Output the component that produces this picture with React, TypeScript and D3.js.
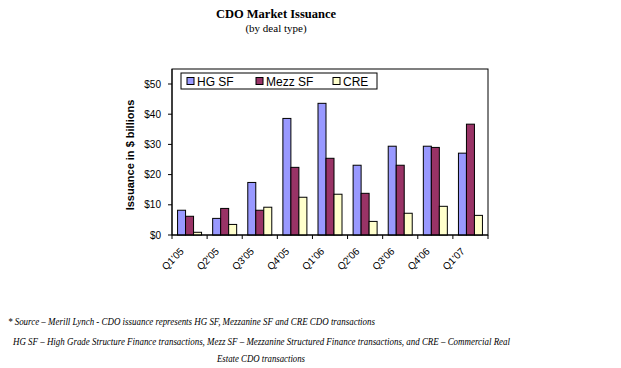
import { useEffect, useRef } from 'react';
import * as d3 from 'd3';

// quarters on the x axis
const QUARTERS = ["Q1'05", "Q2'05", "Q3'05", "Q4'05", "Q1'06", "Q2'06", "Q3'06", "Q4'06", "Q1'07"];
// issuance in $ billions
const HG_SF = [8.2, 5.5, 17.4, 38.6, 43.6, 23.1, 29.4, 29.4, 27.1];
const MEZZ_SF = [6.2, 8.8, 8.2, 22.4, 25.4, 13.8, 23.1, 29.0, 36.7];
const CRE = [0.9, 3.5, 9.2, 12.5, 13.5, 4.5, 7.2, 9.5, 6.5];
const SERIES_NAMES = ['HG SF', 'Mezz SF', 'CRE'];
const SERIES_COLORS = ['#9999FF', '#993366', '#FFFFCC'];
const Y_TICKS = [0, 10, 20, 30, 40, 50];

const W = 621;
const H = 368;

export default function App() {
  const svgRef = useRef<SVGSVGElement>(null);

  useEffect(() => {
    const svg = d3.select(svgRef.current);
    svg.selectAll('*').remove();

    const left = 172, right = 488, top = 69, bottom = 235;
    const series = [HG_SF, MEZZ_SF, CRE];
    const serif = '"Liberation Serif", "Times New Roman", serif';
    const sans = 'Arial, "Liberation Sans", sans-serif';

    const x = d3.scaleBand().domain(QUARTERS).range([left, right]);
    const inner = d3.scaleBand<number>().domain([0, 1, 2]).range([0, 24]);
    const y = d3.scaleLinear().domain([0, 50]).range([bottom, bottom - 151]);

    // titles
    svg.append('text').attr('x', 276).attr('y', 18).attr('text-anchor', 'middle')
      .attr('font-family', serif).attr('font-weight', 'bold').attr('font-size', 12.5)
      .text('CDO Market Issuance');
    svg.append('text').attr('x', 276).attr('y', 32).attr('text-anchor', 'middle')
      .attr('font-family', serif).attr('font-size', 11)
      .text('(by deal type)');

    // plot frame
    svg.append('rect').attr('x', left).attr('y', top)
      .attr('width', right - left).attr('height', bottom - top)
      .attr('fill', 'white').attr('stroke', '#000').attr('stroke-width', 1);

    // bars
    series.forEach((vals, si) => {
      svg.append('g').selectAll('rect').data(vals).join('rect')
        .attr('x', (_, i) => x(QUARTERS[i])! + (x.bandwidth() - 24) / 2 + inner(si)!)
        .attr('y', d => y(d))
        .attr('width', inner.bandwidth())
        .attr('height', d => bottom - y(d))
        .attr('fill', SERIES_COLORS[si])
        .attr('stroke', '#000').attr('stroke-width', 1);
    });

    // y axis
    const yAxis = svg.append('g');
    yAxis.append('line').attr('x1', left).attr('x2', left).attr('y1', top).attr('y2', bottom).attr('stroke', '#000');
    yAxis.selectAll('line.tick').data(Y_TICKS).join('line').attr('class', 'tick')
      .attr('x1', left - 4).attr('x2', left).attr('y1', d => y(d)).attr('y2', d => y(d)).attr('stroke', '#000');
    yAxis.selectAll('text').data(Y_TICKS).join('text')
      .attr('x', left - 11).attr('y', d => y(d) + 3.5).attr('text-anchor', 'end')
      .attr('font-family', sans).attr('font-size', 10)
      .text(d => `$${d}`);

    // x axis
    const xAxis = svg.append('g');
    xAxis.append('line').attr('x1', left).attr('x2', right).attr('y1', bottom).attr('y2', bottom).attr('stroke', '#000');
    const edges = QUARTERS.map(q => x(q)!).concat([right]);
    xAxis.selectAll('line.tick').data(edges).join('line').attr('class', 'tick')
      .attr('x1', d => d).attr('x2', d => d).attr('y1', bottom).attr('y2', bottom + 4).attr('stroke', '#000');
    xAxis.selectAll('text').data(QUARTERS).join('text')
      .attr('transform', d => `translate(${x(d)! + x.bandwidth() / 2 - 5},${bottom + 17}) rotate(-45)`)
      .attr('text-anchor', 'end')
      .attr('font-family', sans).attr('font-size', 10)
      .text(d => d);

    // y axis title
    svg.append('text')
      .attr('transform', `translate(134,155) rotate(-90)`)
      .attr('text-anchor', 'middle')
      .attr('font-family', sans).attr('font-weight', 'bold').attr('font-size', 11)
      .text('Issuance in  $ billions');

    // legend
    const lg = svg.append('g');
    lg.append('rect').attr('x', 181).attr('y', 73).attr('width', 196).attr('height', 16)
      .attr('fill', 'white').attr('stroke', '#000');
    const legendX = [187, 256, 333];
    SERIES_NAMES.forEach((name, i) => {
      lg.append('rect').attr('x', legendX[i]).attr('y', 77.5).attr('width', 7).attr('height', 7)
        .attr('fill', SERIES_COLORS[i]).attr('stroke', '#000');
      lg.append('text').attr('x', legendX[i] + 10).attr('y', 85.5)
        .attr('font-family', sans).attr('font-size', 12)
        .text(name);
    });

    // notes
    const note = (txt: string, xPos: number, yPos: number, len: number, anchor: string) =>
      svg.append('text').attr('x', xPos).attr('y', yPos).attr('text-anchor', anchor)
        .attr('font-family', serif).attr('font-style', 'italic').attr('font-size', 9.5)
        .attr('textLength', len).attr('lengthAdjust', 'spacingAndGlyphs')
        .text(txt);
    note('* Source \u2013 Merill Lynch - CDO issuance represents HG SF, Mezzanine SF and CRE CDO transactions', 8, 325, 367, 'start');
    note('HG SF \u2013 High Grade Structure Finance transactions, Mezz SF \u2013 Mezzanine Structured Finance transactions, and CRE \u2013 Commercial Real', 13, 345, 497, 'start');
    note('Estate CDO transactions', 217, 362, 88, 'start');
  }, []);

  return (
    <div style={{ position: 'absolute', left: 0, top: 0 }}>
      <svg ref={svgRef} width={W} height={H} style={{ display: 'block', background: 'white' }} />
    </div>
  );
}
